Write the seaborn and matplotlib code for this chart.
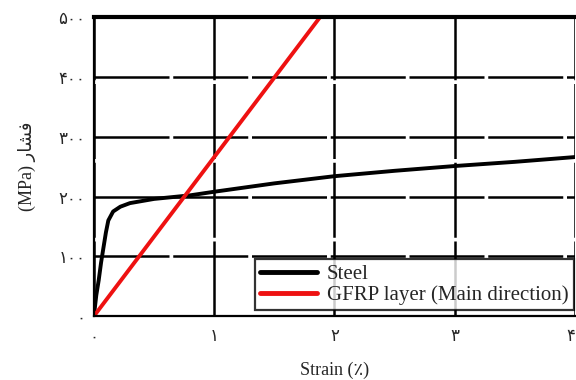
import matplotlib
matplotlib.use("Agg")
import matplotlib.pyplot as plt
import seaborn as sns
import pandas as pd

# Stress-strain data (strain in %, stress in MPa)
steel_strain = [0.0, 0.02, 0.04, 0.06, 0.08, 0.10, 0.12, 0.16, 0.22, 0.30, 0.50,
                0.80, 1.00, 1.50, 2.00, 2.50, 3.00, 3.50, 4.00]
steel_stress = [0, 35, 60, 90, 115, 140, 160, 175, 183, 189, 196,
                202, 208, 222, 234, 243, 251, 258, 266]
gfrp_strain = [0.0, 1.9]
gfrp_stress = [0, 505]

x_ticks = [0, 1, 2, 3, 4]
x_tick_labels = ["۰", "۱", "۲", "۳", "۴"]
y_ticks = [0, 100, 200, 300, 400, 500]
y_tick_labels = ["۰", "۱۰۰", "۲۰۰", "۳۰۰", "۴۰۰", "۵۰۰"]

series_names = ["Steel", "GFRP layer (Main direction)"]
series_colors = ["#000000", "#ee1111"]

sns.set_style("white")
plt.rcParams["font.family"] = ["Liberation Serif", "DejaVu Sans"]

df = pd.concat([
    pd.DataFrame({"strain": steel_strain, "stress": steel_stress, "material": series_names[0]}),
    pd.DataFrame({"strain": gfrp_strain, "stress": gfrp_stress, "material": series_names[1]}),
])

fig = plt.figure(figsize=(5.76, 3.80), dpi=100)
ax = fig.add_axes([0.163, 0.168, 0.835, 0.787])

sns.lineplot(data=df, x="strain", y="stress", hue="material", palette=series_colors,
             estimator=None, sort=False, linewidth=2.8, ax=ax)

ax.set_xlim(0, 4)
ax.set_ylim(0, 500)
ax.set_xticks(x_ticks)
ax.set_xticklabels(x_tick_labels, family=["DejaVu Sans"], fontsize=12)
ax.get_xticklabels()[-1].set_horizontalalignment("right")
ax.set_yticks(y_ticks)
ax.set_yticklabels(y_tick_labels, family=["DejaVu Sans"], fontsize=12)
ax.tick_params(axis="x", length=0, pad=8)
ax.tick_params(axis="y", length=0, pad=6)

ax.grid(True, color="black", linewidth=1.8, linestyle=(0, (30, 1.5)))
ax.set_axisbelow(True)

for side in ["left", "bottom"]:
    ax.spines[side].set_linewidth(1.6)
    ax.spines[side].set_color("black")
ax.spines["top"].set_linewidth(3.0)
ax.spines["top"].set_color("black")
ax.spines["right"].set_visible(False)

ax.set_xlabel("Strain (\u066a)", fontsize=13, labelpad=12)
ax.set_ylabel("(MPa) \ufead\ufe8e\ufeb8\ufed3", fontsize=13, labelpad=16)

leg = ax.legend(loc="lower right", bbox_to_anchor=(0.998, 0.02), frameon=True,
                fancybox=False, fontsize=15, handlelength=2.7, borderpad=0.25,
                labelspacing=0.05, handletextpad=0.5, borderaxespad=0)
leg.get_frame().set_edgecolor("black")
leg.get_frame().set_linewidth(1.6)
for line in leg.get_lines():
    line.set_linewidth(3.5)

fig.savefig("out.png", dpi=100)
